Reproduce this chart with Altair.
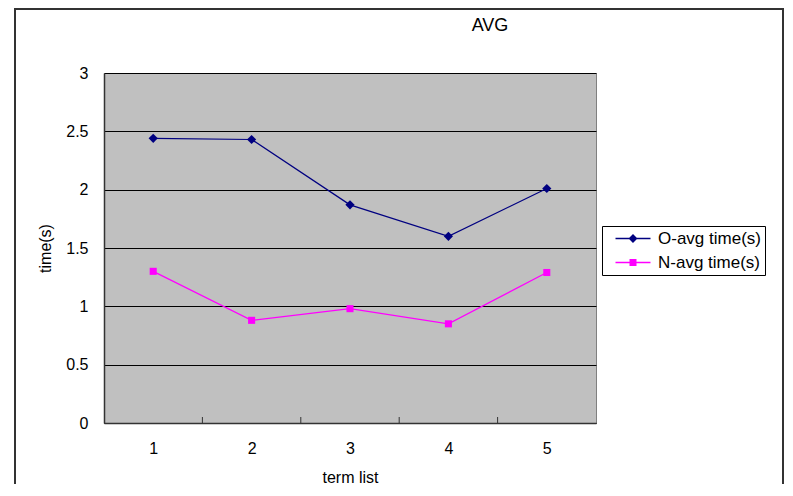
import altair as alt
import pandas as pd

# ---- data ----
terms = [1, 2, 3, 4, 5]
o_avg = [2.44, 2.43, 1.87, 1.60, 2.01]
n_avg = [1.30, 0.88, 0.98, 0.85, 1.29]
series_names = ["O-avg time(s)", "N-avg time(s)"]
series_colors = ["#000080", "#FF00FF"]
y_ticks = [0, 0.5, 1, 1.5, 2, 2.5, 3]
x_tick_marks = [1.5, 2.5, 3.5, 4.5]

df = pd.DataFrame({
    "term": terms * 2,
    "time": o_avg + n_avg,
    "series": [series_names[0]] * len(terms) + [series_names[1]] * len(terms),
})
ticks_df = pd.DataFrame({"pos": x_tick_marks})
frame_df = pd.DataFrame({"f": [0]})

W, H = 492, 350
FONT = "Liberation Sans"

# legend symbols: thin bar (line) + marker, all filled
bar = "M-2.5,-0.09H2.5V0.09H-2.5Z"
legend_shapes = [
    bar + "M0,-0.64L0.64,0L0,0.64L-0.64,0Z",
    bar + "M-0.5,-0.5H0.5V0.5H-0.5Z",
]


def make_legend():
    return alt.Legend(
        title=None,
        orient="none",
        legendX=498,
        legendY=153,
        padding=4,
        rowPadding=6,
        strokeColor="black",
        fillColor="white",
        symbolSize=196,
        symbolStrokeWidth=0,
        symbolOpacity=1,
        symbolOffset=18.5,
        labelOffset=16.5,
        labelFont=FONT,
        labelFontSize=17,
        labelColor="black",
        labelLimit=300,
    )


x_enc = alt.X(
    "term:Q",
    scale=alt.Scale(domain=[0.5, 5.5], nice=False, zero=False),
    axis=alt.Axis(
        values=terms, format="d", title="term list", grid=False, ticks=False, tickSize=0,
        labelPadding=17, titlePadding=13, domainColor="#333333", domainWidth=1.5,
    ),
)
y_enc = alt.Y(
    "time:Q",
    scale=alt.Scale(domain=[0, 3], nice=False),
    axis=alt.Axis(
        values=y_ticks, format="~g", title="time(s)", grid=True, gridColor="black", gridWidth=1,
        ticks=False, tickSize=0, labelPadding=16, labelAlign="right",
        domainColor="#333333", domainWidth=1.5,
        titleX=-51, titleY=H / 2, titleAngle=270, titleBaseline="bottom",
    ),
)
color_scale = alt.Scale(domain=series_names, range=series_colors)

base = alt.Chart(df)

lines = base.mark_line(strokeWidth=1.25).encode(
    x=x_enc,
    y=y_enc,
    color=alt.Color("series:N", scale=color_scale, legend=None),
)

o_points = base.transform_filter(alt.datum.series == series_names[0]).mark_point(
    filled=True, opacity=1, shape="diamond", size=85
).encode(
    x="term:Q", y="time:Q",
    color=alt.Color("series:N", scale=color_scale, legend=None),
)

n_points = base.transform_filter(alt.datum.series == series_names[1]).mark_point(
    filled=True, opacity=1, shape="square", size=50
).encode(
    x="term:Q", y="time:Q",
    color=alt.Color("series:N", scale=color_scale, legend=None),
)

# invisible layer that only carries the legend (line + marker symbols)
legend_layer = base.mark_point(filled=True, opacity=0).encode(
    x="term:Q", y="time:Q",
    color=alt.Color("series:N", scale=color_scale, legend=make_legend()),
    shape=alt.Shape("series:N", scale=alt.Scale(domain=series_names, range=legend_shapes),
                    legend=make_legend()),
)

tick_marks = alt.Chart(ticks_df).mark_rule(color="#333333", strokeWidth=1).encode(
    x="pos:Q",
    y=alt.value(H - 6),
    y2=alt.value(H),
)

frame = alt.Chart(frame_df).mark_rect(fillOpacity=0, stroke="#333333", strokeWidth=2).encode(
    x=alt.value(-89), x2=alt.value(679), y=alt.value(-64), y2=alt.value(440),
)

chart = alt.layer(frame, tick_marks, lines, o_points, n_points, legend_layer).resolve_legend(
    color="independent", shape="independent"
).properties(
    width=W,
    height=H,
    title=alt.TitleParams(
        text="AVG", font=FONT, fontSize=18, fontWeight="normal", color="black",
        anchor="middle", dx=140, dy=55, offset=28,
    ),
    autosize=alt.AutoSizeParams(type="none"),
    padding={"left": 96, "top": 65, "right": 189, "bottom": 61},
    background="white",
).configure_view(
    fill="#C0C0C0", stroke="#808080", strokeWidth=1,
).configure_axis(
    labelFont=FONT, labelFontSize=16, labelColor="black",
    titleFont=FONT, titleFontSize=16, titleColor="black", titleFontWeight="normal",
)

chart.save("out.html", embed_options={"renderer": "svg", "actions": False})
